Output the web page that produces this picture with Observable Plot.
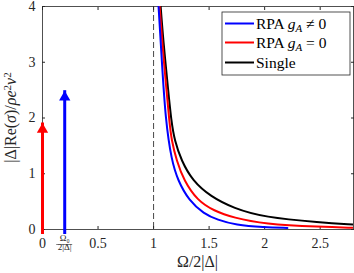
<!DOCTYPE html>
<html><head><meta charset="utf-8">
<script src="https://cdn.jsdelivr.net/npm/d3@7"></script>
<script src="https://cdn.jsdelivr.net/npm/@observablehq/plot@0.6"></script>
<style>body{margin:0;background:#fff}#chart{width:354px;height:273px}</style>
</head><body><div id="chart"></div>
<script>
const xTicks = [0, 0.5, 1, 1.5, 2, 2.5];
const yTicks = [0, 1, 2, 3, 4];
const omega0 = [0.2];
const gapLine = [1];

const arrowX = [0, 0.2];
const arrowTip = [1.91, 2.49];
const arrowColor = ["#ff0000", "#0000ff"];

const blueX = [1.042, 1.074, 1.108, 1.162, 1.219, 1.318, 1.453, 1.574, 1.739, 1.991, 2.205];
const blueY = [4.1, 3.03, 1.955, 1.238, 0.879, 0.520, 0.282, 0.174, 0.080, 0.040, 0.027];
const redX = [1.051, 1.076, 1.117, 1.141, 1.162, 1.207, 1.273, 1.394, 1.543, 1.721, 1.991, 2.505, 2.80];
const redY = [4.1, 3.39, 2.49, 1.955, 1.596, 1.238, 0.879, 0.520, 0.335, 0.21, 0.10, 0.045, 0.03];
const blackX = [1.060, 1.087, 1.132, 1.159, 1.189, 1.250, 1.349, 1.514, 1.723, 1.991, 2.505, 2.80];
const blackY = [4.1, 3.39, 2.49, 1.955, 1.596, 1.238, 0.879, 0.590, 0.380, 0.22, 0.126, 0.09];

const seriesNames = ["RPA g_A ≠ 0", "RPA g_A = 0", "Single"];
const seriesColors = ["#0000ff", "#ff0000", "#000000"];

const toPts = (xs, ys) => xs.map((x, i) => ({x, y: ys[i]}));
const blue = toPts(blueX, blueY), red = toPts(redX, redY), black = toPts(blackX, blackY);
const arrows = arrowX.map((x, i) => ({x, tip: arrowTip[i], c: arrowColor[i]}));

const FONT = "'Liberation Serif', 'DejaVu Serif', serif";
const axisColor = "#262626";
const fmt = d => String(d);

const chart = Plot.plot({
  width: 354, height: 273,
  marginLeft: 42, marginRight: 1, marginTop: 6, marginBottom: 44,
  x: {domain: [0, 2.8]},
  y: {domain: [0, 4]},
  style: {fontFamily: FONT, fontSize: "14px", color: axisColor, background: "white"},
  marks: [
    Plot.ruleX(gapLine, {stroke: "#333", strokeWidth: 0.9, strokeDasharray: "6,3"}),
    Plot.frame({stroke: axisColor, strokeWidth: 0.8}),
    Plot.axisX(xTicks, {tickSize: -3, tickPadding: 12, tickFormat: fmt, label: null, fontSize: 14, stroke: axisColor}),
    Plot.axisX(xTicks, {anchor: "top", tickSize: -3, tickFormat: () => "", label: null, stroke: axisColor}),
    Plot.axisY(yTicks, {tickSize: -3, tickPadding: 10, tickFormat: fmt, label: null, fontSize: 14, stroke: axisColor}),
    Plot.axisY(yTicks, {anchor: "right", tickSize: -3, tickFormat: () => "", label: null, stroke: axisColor}),
    Plot.line(black, {x: "x", y: "y", stroke: seriesColors[2], strokeWidth: 2, curve: "basis", clip: true}),
    Plot.line(red, {x: "x", y: "y", stroke: seriesColors[1], strokeWidth: 2, curve: "basis", clip: true}),
    Plot.line(blue, {x: "x", y: "y", stroke: seriesColors[0], strokeWidth: 2, curve: "basis", clip: true}),
    Plot.ruleX(arrows, {x: "x", y1: 0, y2: "tip", stroke: "c", strokeWidth: 3, insetTop: 5}),
    Plot.dot(arrows, {x: "x", y: "tip", symbol: "triangle", r: 4.2, fill: "c", stroke: null, dy: 6.5}),
    Plot.text(omega0, {x: d => d, frameAnchor: "bottom", text: () => "Ω₀", dy: 11, fontSize: 9}),
    Plot.text(omega0, {x: d => d, frameAnchor: "bottom", text: () => "2|Δ|", dy: 20, fontSize: 9})
  ]
});
document.getElementById("chart").appendChild(chart);

const svg = d3.select(chart);
const xs = chart.scale("x"), ys = chart.scale("y");
// fraction bar
const fx = xs.apply(omega0[0]), fy = ys.apply(0);
svg.append("line").attr("x1", fx - 8).attr("x2", fx + 8).attr("y1", fy + 15.5).attr("y2", fy + 15.5)
  .attr("stroke", axisColor).attr("stroke-width", 0.6);

// x label
svg.append("text").attr("x", (xs.range[0] + xs.range[1]) / 2).attr("y", 267)
  .attr("text-anchor", "middle").style("font-family", FONT).attr("font-size", 16).attr("fill", axisColor)
  .text("Ω/2|Δ|");

// y label
const yl = svg.append("text").attr("transform", `translate(16,${(ys.range[0] + ys.range[1]) / 2}) rotate(-90)`)
  .attr("text-anchor", "middle").style("font-family", FONT).attr("font-size", 16).attr("fill", axisColor);
yl.append("tspan").text("|Δ|Re(");
yl.append("tspan").attr("font-style", "italic").text("σ");
yl.append("tspan").text(")/");
yl.append("tspan").attr("font-style", "italic").text("ρe");
yl.append("tspan").attr("font-size", 11).attr("dy", -5).text("2");
yl.append("tspan").attr("font-style", "italic").attr("dy", 5).text("v");
yl.append("tspan").attr("font-size", 11).attr("dy", -5).text("2");

// legend
const lg = svg.append("g");
lg.append("rect").attr("x", 222).attr("y", 12).attr("width", 128).attr("height", 63)
  .attr("fill", "white").attr("stroke", axisColor).attr("stroke-width", 0.8);
const rowsY = [23.5, 42.5, 62.5];
seriesNames.forEach((name, i) => {
  lg.append("line").attr("x1", 225).attr("x2", 254).attr("y1", rowsY[i]).attr("y2", rowsY[i])
    .attr("stroke", seriesColors[i]).attr("stroke-width", 2);
  const t = lg.append("text").attr("x", 256).attr("y", rowsY[i] + 5).attr("text-anchor", "start")
    .style("font-family", FONT).attr("font-size", 15.5).attr("fill", "#000");
  const m = name.match(/^(.*?) g_A (.*)$/);
  if (m) {
    t.append("tspan").text(m[1] + " ");
    t.append("tspan").attr("font-style", "italic").text("g");
    t.append("tspan").attr("font-style", "italic").attr("font-size", 11).attr("dy", 3).text("A");
    t.append("tspan").attr("dy", -3).text(" " + m[2]);
  } else {
    t.text(name);
  }
});
</script>
</body></html>
